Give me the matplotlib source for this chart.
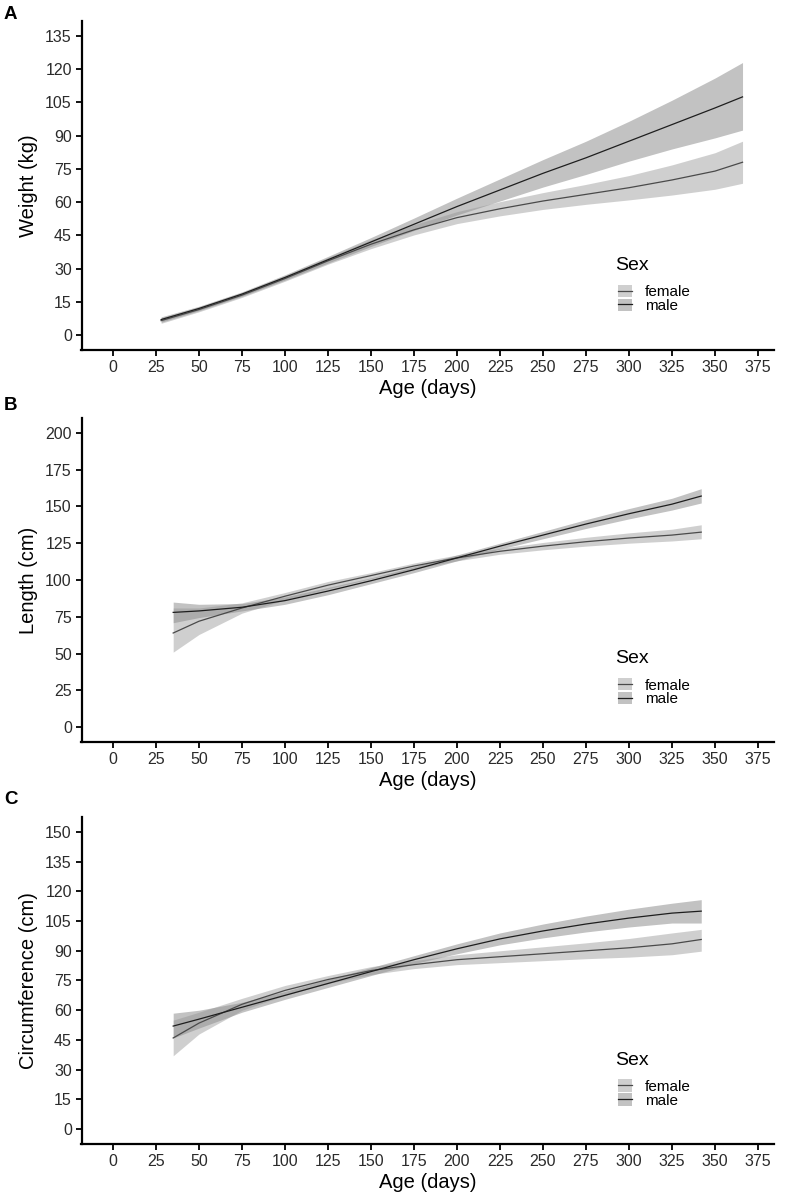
import numpy as np
import matplotlib
matplotlib.use('Agg')
import matplotlib.pyplot as plt
from matplotlib.patches import Patch
from matplotlib.lines import Line2D

plt.rcParams['font.family'] = ['Liberation Sans', 'DejaVu Sans']

# ---- data ----
days_a = [28, 50, 75, 100, 125, 150, 175, 200, 225, 250, 275, 300, 325, 350, 366]
wt_male = [7, 12, 18.5, 26, 34, 42, 50, 58, 65.5, 73, 80, 87.5, 95, 102.5, 107.5]
wt_male_lo = [5.8, 11, 17.5, 24.8, 32.5, 40, 47.2, 54.2, 60.5, 66.8, 72.5, 78.5, 84, 89, 92.5]
wt_male_hi = [8.2, 13, 19.5, 27.2, 35.5, 44, 52.8, 61.8, 70.5, 79.2, 87.5, 96.5, 106, 116, 123]
wt_fem = [6.5, 11.5, 18, 25.5, 33.5, 41, 47.5, 53, 57, 60.5, 63.5, 66.5, 70, 74, 78]
wt_fem_lo = [5.3, 10.5, 17, 24.3, 32, 39, 45.2, 50.3, 53.8, 56.7, 59, 61, 63.2, 65.8, 68.5]
wt_fem_hi = [7.7, 12.5, 19, 26.7, 35, 43, 49.8, 55.7, 60.2, 64.3, 68, 72, 76.8, 82.3, 87.5]

days_bc = [35, 50, 75, 100, 125, 150, 175, 200, 225, 250, 275, 300, 325, 342]
len_male = [78, 79, 81.5, 86, 92.5, 99.5, 107, 115, 123, 130.5, 138, 145, 151.5, 157]
len_male_lo = [71, 74.5, 79, 83.5, 90, 97.5, 105, 113, 121, 128, 135, 141.5, 147.5, 152.3]
len_male_hi = [85, 83.5, 84, 88.5, 95, 101.5, 109, 117, 125, 133, 141, 148.5, 155.5, 162]
len_fem = [64, 72, 81, 89, 96.5, 103, 109.5, 115, 119.5, 123, 126, 128.5, 130.5, 132.5]
len_fem_lo = [51, 63, 77.5, 86.5, 94, 101, 107.5, 113, 117.5, 120.5, 123, 125, 126.5, 128]
len_fem_hi = [81, 81, 84.5, 91.5, 99, 105, 111.5, 117, 121.5, 125.5, 129, 132, 134.5, 137.5]

circ_male = [52, 55.5, 61.5, 67.5, 73.5, 79.5, 85.5, 91, 96, 100, 103.5, 106.5, 109, 110]
circ_male_lo = [46, 51, 59, 65.5, 71.5, 77.5, 83.5, 88.5, 93, 96.5, 99.5, 102, 104, 104]
circ_male_hi = [58.5, 60, 64, 69.5, 75.5, 81.5, 87.5, 93.5, 99, 103.5, 107.5, 111, 114, 115.8]
circ_fem = [46, 53.5, 63, 70, 75.5, 80, 83, 85.5, 87, 88.5, 90, 91.5, 93.5, 95.7]
circ_fem_lo = [37, 48, 60, 67.5, 73.5, 78, 81, 83, 84, 85, 86, 86.8, 88, 89.8]
circ_fem_hi = [55, 59, 66, 72.5, 77.5, 82, 85, 88, 90, 92, 94, 96.2, 99, 100.8]

x_ticks = list(range(0, 376, 25))
panels = [
    ('A', 'Weight (kg)', days_a, (wt_fem, wt_fem_lo, wt_fem_hi), (wt_male, wt_male_lo, wt_male_hi),
     list(range(0, 136, 15)), (0, 135)),
    ('B', 'Length (cm)', days_bc, (len_fem, len_fem_lo, len_fem_hi), (len_male, len_male_lo, len_male_hi),
     list(range(0, 201, 25)), (0, 200)),
    ('C', 'Circumference (cm)', days_bc, (circ_fem, circ_fem_lo, circ_fem_hi),
     (circ_male, circ_male_lo, circ_male_hi), list(range(0, 151, 15)), (0, 150)),
]

# axes boxes in pixels: (top, bottom), and the panel letter top
boxes = [(21, 350), (418, 742), (817, 1144)]
letter_top = [6, 397, 791]
W, H = 800, 1195
left_px, right_px = 81.5, 774

fem_fill, fem_alpha, fem_line = '#b0b0b0', 0.6, '#4a4a4a'
male_fill, male_alpha, male_line = '#909090', 0.55, '#1e1e1e'

fig = plt.figure(figsize=(8, 11.95), dpi=100)

for (letter, ylab, days, fem, male, yt, ylim), (top, bot), lt in zip(panels, boxes, letter_top):
    ax = fig.add_axes([left_px / W, 1 - bot / H, (right_px - left_px) / W, (bot - top) / H])
    d = np.array(days)
    ax.fill_between(d, fem[1], fem[2], color=fem_fill, alpha=fem_alpha, lw=0)
    ax.fill_between(d, male[1], male[2], color=male_fill, alpha=male_alpha, lw=0)
    ax.plot(d, fem[0], color=fem_line, lw=0.9)
    ax.plot(d, male[0], color=male_line, lw=0.9)

    # ggplot style expansion of 5%
    ax.set_xlim(-0.05 * 366, 366 * 1.05)
    span = ylim[1] - ylim[0]
    ax.set_ylim(ylim[0] - 0.05 * span, ylim[1] + 0.05 * span)
    ax.set_xticks(x_ticks)
    ax.set_yticks(yt)
    ax.tick_params(labelsize=11.5, length=4, width=1.3, color='black', labelcolor='#2b2b2b', pad=3)
    for s in ['top', 'right']:
        ax.spines[s].set_visible(False)
    for s in ['left', 'bottom']:
        ax.spines[s].set_linewidth(1.6)
    ax.set_xlabel('Age (days)', fontsize=14.5, labelpad=3)
    ax.set_ylabel(ylab, fontsize=14.5, labelpad=5)

    h_f = (Patch(facecolor=fem_fill, alpha=fem_alpha, lw=0), Line2D([], [], color=fem_line, lw=0.9))
    h_m = (Patch(facecolor=male_fill, alpha=male_alpha, lw=0), Line2D([], [], color=male_line, lw=0.9))
    ax.legend([h_f, h_m], ['female', 'male'], loc='upper left',
              bbox_to_anchor=(0.755, 0.240), frameon=False, fontsize=11,
              handlelength=0.92, handleheight=0.88, handletextpad=0.85,
              labelspacing=-0.04, borderpad=0.4)
    ax.text(0.771, 0.243, 'Sex', transform=ax.transAxes, fontsize=14, va='baseline', ha='left')

    fig.text(4 / W, 1 - lt / H, letter, fontsize=13.5, fontweight='bold', va='top', ha='left')

fig.savefig('out.png', dpi=100)
